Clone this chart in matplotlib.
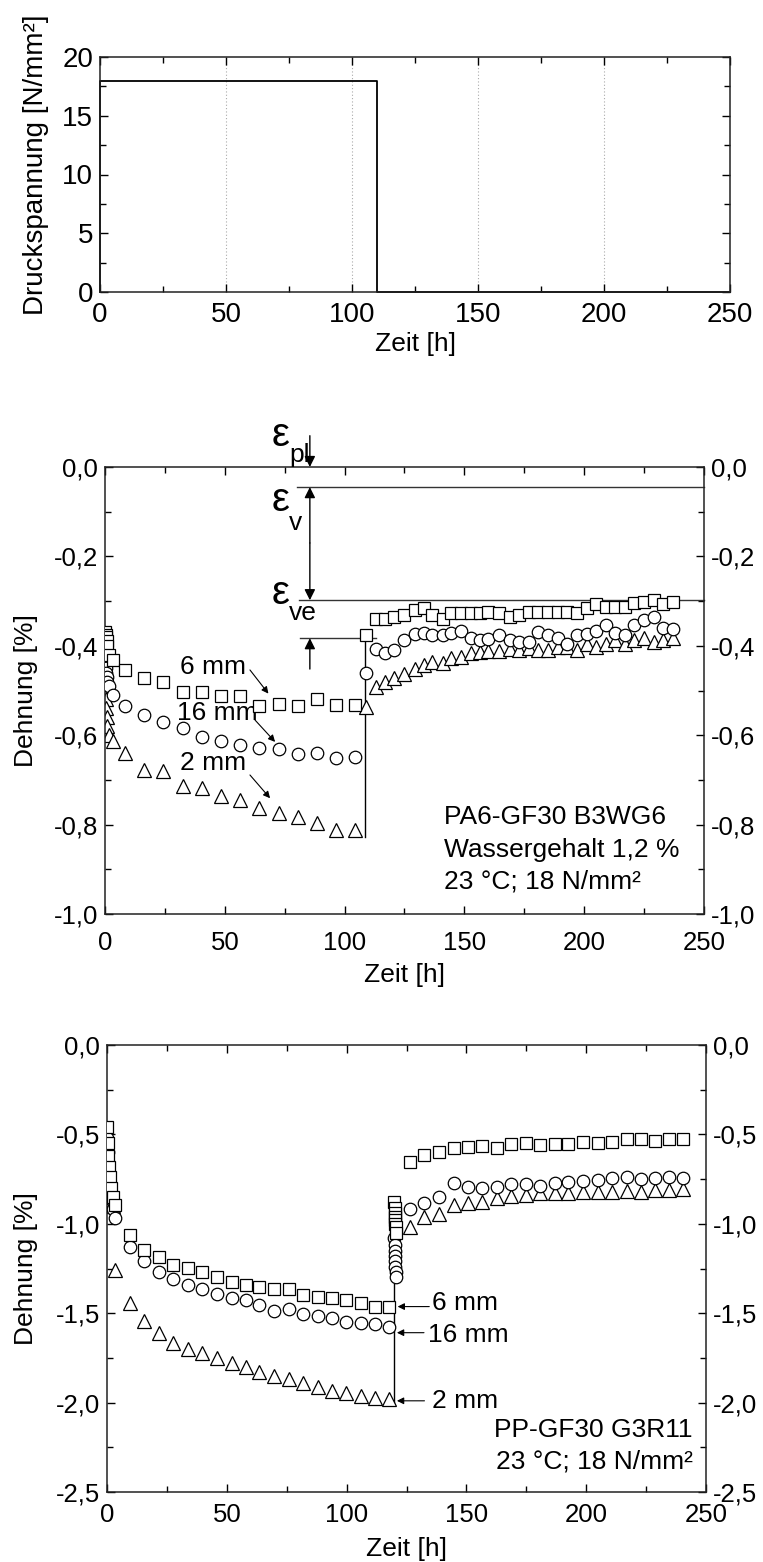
import matplotlib
matplotlib.use('Agg')
import matplotlib.pyplot as plt
from matplotlib.ticker import MultipleLocator, FuncFormatter

plt.rcParams['font.family'] = ['Liberation Sans', 'DejaVu Sans']
plt.rcParams['mathtext.default'] = 'regular'

# ---------------- data: top panel (load history) ----------------
load_t = [0, 0, 110, 110, 250]
load_s = [0, 18, 18, 0, 0]

# ---------------- data: middle panel PA6-GF30 ----------------
pa_t_load = [0.1, 0.3, 0.5, 0.7, 1.0, 1.5, 3.5, 8.3, 16.4, 24.4, 32.4, 40.3, 48.4, 56.3,
             64.4, 72.5, 80.5, 88.6, 96.5, 104.5]
pa_sq_load = [-0.37, -0.375, -0.38, -0.39, -0.40, -0.42, -0.432, -0.454, -0.473, -0.482, -0.503,
              -0.504, -0.512, -0.512, -0.535, -0.531, -0.534, -0.519, -0.532, -0.532]
pa_ci_load = [-0.44, -0.45, -0.46, -0.47, -0.48, -0.49, -0.510, -0.534, -0.555, -0.570, -0.585,
              -0.603, -0.612, -0.623, -0.628, -0.630, -0.641, -0.639, -0.652, -0.648]
pa_tr_load = [-0.50, -0.52, -0.54, -0.56, -0.58, -0.60, -0.614, -0.639, -0.677, -0.679, -0.713,
              -0.719, -0.735, -0.745, -0.762, -0.775, -0.782, -0.797, -0.811, -0.811]

pa_t_rec = [108.9, 112.9, 117.0, 120.6, 124.8, 129.2, 133.3, 136.6, 141.0, 144.4, 148.6, 152.6,
            156.7, 160.0, 164.6, 168.9, 172.7, 176.8, 180.8, 184.7, 189.0, 192.8, 196.9, 201.0,
            204.8, 209.0, 212.9, 217.2, 220.8, 225.0, 229.0, 233.0, 237.0]
pa_sq_rec = [-0.376, -0.341, -0.339, -0.336, -0.331, -0.320, -0.316, -0.331, -0.341, -0.326, -0.326,
             -0.326, -0.326, -0.324, -0.327, -0.336, -0.331, -0.324, -0.324, -0.324, -0.324, -0.324,
             -0.327, -0.316, -0.306, -0.314, -0.314, -0.314, -0.305, -0.301, -0.298, -0.306, -0.303]
pa_ci_rec = [-0.461, -0.408, -0.415, -0.409, -0.387, -0.374, -0.372, -0.376, -0.376, -0.372, -0.366,
             -0.383, -0.387, -0.385, -0.376, -0.387, -0.391, -0.391, -0.370, -0.376, -0.383, -0.395,
             -0.376, -0.374, -0.368, -0.353, -0.372, -0.376, -0.353, -0.342, -0.336, -0.361, -0.363]
pa_tr_rec = [-0.536, -0.492, -0.480, -0.473, -0.462, -0.453, -0.443, -0.436, -0.439, -0.428, -0.424,
             -0.415, -0.413, -0.411, -0.411, -0.408, -0.409, -0.406, -0.409, -0.409, -0.402, -0.402,
             -0.409, -0.395, -0.402, -0.395, -0.386, -0.395, -0.387, -0.383, -0.391, -0.387, -0.383]
pa_unload_t = 108.7
pa_unload_span = [-0.375, -0.827]

# ---------------- data: bottom panel PP-GF30 ----------------
pp_t_load = [0.1, 0.3, 0.5, 0.8, 1.2, 1.8, 2.4, 3.2, 9.6, 15.4, 21.5, 27.6, 33.7, 39.8, 45.9, 52.0,
             58.1, 63.6, 69.7, 75.9, 82.0, 88.1, 93.8, 99.9, 106.0, 111.7, 117.8]
pp_sq_load = [-0.46, -0.55, -0.62, -0.68, -0.74, -0.80, -0.85, -0.895, -1.063, -1.147, -1.184,
              -1.230, -1.249, -1.268, -1.299, -1.324, -1.342, -1.355, -1.367, -1.367, -1.398,
              -1.411, -1.417, -1.426, -1.445, -1.463, -1.467]
pp_ci_load = [-0.52, -0.60, -0.68, -0.74, -0.80, -0.86, -0.92, -0.969, -1.132, -1.206, -1.268,
              -1.311, -1.342, -1.367, -1.393, -1.417, -1.426, -1.454, -1.486, -1.478, -1.504,
              -1.516, -1.529, -1.547, -1.553, -1.560, -1.575]
pp_tr_load = [-0.58, -0.66, -0.72, -0.78, -0.82, -0.86, -0.90, -1.258, -1.441, -1.542, -1.609,
              -1.665, -1.702, -1.725, -1.752, -1.780, -1.803, -1.827, -1.851, -1.870, -1.889,
              -1.911, -1.933, -1.945, -1.963, -1.976, -1.982]

pp_t_jump = [119.9, 120.0, 120.1, 120.2, 120.3, 120.4, 120.5, 120.6]
pp_sq_jump = [-0.88, -0.91, -0.94, -0.96, -0.98, -1.00, -1.02, -1.05]
pp_ci_jump = [-1.08, -1.12, -1.15, -1.18, -1.21, -1.24, -1.27, -1.30]

pp_t_rec = [126.4, 132.5, 138.6, 144.7, 150.8, 156.5, 162.6, 168.7, 174.8, 180.9, 187.0, 192.5,
            198.6, 204.8, 210.8, 216.9, 223.0, 228.8, 234.7, 240.4]
pp_sq_rec = [-0.653, -0.615, -0.597, -0.578, -0.572, -0.565, -0.578, -0.554, -0.550, -0.559,
             -0.554, -0.554, -0.541, -0.550, -0.541, -0.528, -0.528, -0.535, -0.528, -0.528]
pp_ci_rec = [-0.919, -0.885, -0.852, -0.770, -0.796, -0.802, -0.796, -0.777, -0.777, -0.789,
             -0.770, -0.764, -0.759, -0.755, -0.746, -0.740, -0.751, -0.746, -0.740, -0.745]
pp_tr_rec = [-1.016, -0.960, -0.945, -0.895, -0.885, -0.876, -0.857, -0.845, -0.839, -0.829,
             -0.830, -0.825, -0.822, -0.820, -0.820, -0.815, -0.820, -0.810, -0.810, -0.805]
pp_unload_t = 119.8
pp_unload_span = [-0.86, -2.0]

# ---------------- styling helpers ----------------
TICK_FS = 18.5
LABEL_FS = 19
LW_SP = 1.1

def comma(v, pos):
    s = f"{v:.1f}"
    if s == "-0.0":
        s = "0.0"
    return s.replace('.', ',')

def style(ax, right_labels, xpad, fs=TICK_FS):
    for sp in ax.spines.values():
        sp.set_linewidth(LW_SP)
        sp.set_color('#222222')
    ax.tick_params(which='both', direction='in', top=True, right=True,
                   labelsize=fs, width=1.0, pad=5)
    ax.tick_params(axis='x', which='both', pad=xpad)
    ax.tick_params(which='major', length=6)
    ax.tick_params(which='minor', length=4)
    if right_labels:
        ax.tick_params(labelright=True)

fig = plt.figure(figsize=(7.63, 15.62), dpi=100)

# ---------------- top panel ----------------
L1, B1, W1, H1 = 100, 292, 630, 235
ax1 = fig.add_axes([L1/763, 1 - B1/1562, W1/763, H1/1562])
ax1.plot(load_t, load_s, color='black', lw=1.3, clip_on=False)
ax1.set_xlim(0, 250)
ax1.set_ylim(0, 20)
ax1.xaxis.set_major_locator(MultipleLocator(50))
ax1.xaxis.set_minor_locator(MultipleLocator(25))
ax1.yaxis.set_major_locator(MultipleLocator(5))
ax1.yaxis.set_minor_locator(MultipleLocator(2.5))
for gx in [50, 100, 150, 200]:
    ax1.axvline(gx, color='#aaaaaa', lw=0.8, ls=(0, (1, 2)), zorder=0)
style(ax1, False, 7, fs=20)
ax1.set_xlabel('Zeit [h]', fontsize=LABEL_FS, labelpad=3)
ax1.set_ylabel('Druckspannung [N/mm²]', fontsize=20)
ax1.yaxis.set_label_coords((49 - L1)/W1, (B1 - 165)/H1)

MS_SQ = 8.5
MS_CI = 9
MS_TR = 9.5
mk = dict(mfc='white', mec='black', mew=0.9, ls='none')

# ---------------- middle panel ----------------
L2, B2, W2, H2 = 105, 914, 599, 447
ax2 = fig.add_axes([L2/763, 1 - B2/1562, W2/763, H2/1562])
ax2.set_xlim(0, 250)
ax2.set_ylim(-1.0, 0.0)
ax2.plot([pa_unload_t, pa_unload_t], pa_unload_span, color='black', lw=1.0, zorder=1)
ax2.plot(pa_t_load, pa_tr_load, marker='^', ms=MS_TR, **mk, zorder=2)
ax2.plot(pa_t_rec, pa_tr_rec, marker='^', ms=MS_TR, **mk, zorder=2)
ax2.plot(pa_t_load, pa_ci_load, marker='o', ms=MS_CI, **mk, zorder=3)
ax2.plot(pa_t_rec, pa_ci_rec, marker='o', ms=MS_CI, **mk, zorder=3)
ax2.plot(pa_t_load, pa_sq_load, marker='s', ms=MS_SQ, **mk, zorder=4)
ax2.plot(pa_t_rec, pa_sq_rec, marker='s', ms=MS_SQ, **mk, zorder=4)
ax2.xaxis.set_major_locator(MultipleLocator(50))
ax2.xaxis.set_minor_locator(MultipleLocator(25))
ax2.yaxis.set_major_locator(MultipleLocator(0.2))
ax2.yaxis.set_minor_locator(MultipleLocator(0.1))
ax2.yaxis.set_major_formatter(FuncFormatter(comma))
style(ax2, True, 12)
ax2.set_xlabel('Zeit [h]', fontsize=LABEL_FS, labelpad=6)
ax2.set_ylabel('Dehnung [%]', fontsize=LABEL_FS)
ax2.yaxis.set_label_coords((38 - L2)/W2, 0.5)

# epsilon annotations
line_kw = dict(color='#333333', lw=1.0)
ax2.plot([80, 250], [-0.045, -0.045], **line_kw, clip_on=False)
ax2.plot([81, 250], [-0.298, -0.298], **line_kw, clip_on=False)
ax2.plot([81.5, 113], [-0.383, -0.383], **line_kw)
arr = dict(arrowstyle='-|>', color='black', lw=1.0, mutation_scale=16, shrinkA=0, shrinkB=0)
ax2.annotate('', xy=(85.5, 0.0), xytext=(85.5, 0.07), arrowprops=arr, annotation_clip=False)
ax2.annotate('', xy=(85.5, -0.045), xytext=(85.5, -0.17), arrowprops=arr)
ax2.annotate('', xy=(85.5, -0.298), xytext=(85.5, -0.17), arrowprops=arr)
ax2.annotate('', xy=(85.5, -0.383), xytext=(85.5, -0.452), arrowprops=arr)
EPS_FS = 29
SUB_FS = 19
ax2.text(73.3, 0.072, 'ε', fontsize=EPS_FS, ha='center', va='center', clip_on=False)
ax2.text(81.4, 0.027, 'pl', fontsize=SUB_FS, ha='center', va='center', clip_on=False)
ax2.text(73.3, -0.074, 'ε', fontsize=EPS_FS, ha='center', va='center')
ax2.text(79.7, -0.125, 'v', fontsize=SUB_FS, ha='center', va='center')
ax2.text(73.3, -0.282, 'ε', fontsize=EPS_FS, ha='center', va='center')
ax2.text(82.4, -0.327, 've', fontsize=SUB_FS, ha='center', va='center')

# thickness labels with arrows
LBL_FS = 19
arr2 = dict(arrowstyle='-|>', color='black', lw=0.8, mutation_scale=10, shrinkA=0, shrinkB=0)
ax2.text(45.1, -0.447, '6 mm', fontsize=LBL_FS, ha='center', va='center')
ax2.annotate('', xy=(68.2, -0.507), xytext=(60.5, -0.454), arrowprops=arr2)
ax2.text(46.9, -0.551, '16 mm', fontsize=LBL_FS, ha='center', va='center')
ax2.annotate('', xy=(71.0, -0.615), xytext=(62.6, -0.566), arrowprops=arr2)
ax2.text(45.1, -0.663, '2 mm', fontsize=LBL_FS, ha='center', va='center')
ax2.annotate('', xy=(68.9, -0.741), xytext=(60.5, -0.689), arrowprops=arr2)

ax2.text(141.5, -0.783, 'PA6-GF30 B3WG6', fontsize=LBL_FS, ha='left', va='center')
ax2.text(141.5, -0.857, 'Wassergehalt 1,2 %', fontsize=LBL_FS, ha='left', va='center')
ax2.text(141.5, -0.928, '23 °C; 18 N/mm²', fontsize=LBL_FS, ha='left', va='center')

# ---------------- bottom panel ----------------
L3, B3, W3, H3 = 107, 1492, 599, 447
ax3 = fig.add_axes([L3/763, 1 - B3/1562, W3/763, H3/1562])
ax3.set_xlim(0, 250)
ax3.set_ylim(-2.5, 0.0)
ax3.plot([pp_unload_t, pp_unload_t], pp_unload_span, color='black', lw=1.0, zorder=1)
ax3.plot(pp_t_load, pp_tr_load, marker='^', ms=MS_TR, **mk, zorder=2)
ax3.plot(pp_t_rec, pp_tr_rec, marker='^', ms=MS_TR, **mk, zorder=2)
ax3.plot(pp_t_load, pp_ci_load, marker='o', ms=MS_CI, **mk, zorder=3)
ax3.plot(pp_t_jump, pp_ci_jump, marker='o', ms=MS_CI, **mk, zorder=3)
ax3.plot(pp_t_rec, pp_ci_rec, marker='o', ms=MS_CI, **mk, zorder=3)
ax3.plot(pp_t_load, pp_sq_load, marker='s', ms=MS_SQ, **mk, zorder=4)
ax3.plot(pp_t_jump, pp_sq_jump, marker='s', ms=MS_SQ, **mk, zorder=4)
ax3.plot(pp_t_rec, pp_sq_rec, marker='s', ms=MS_SQ, **mk, zorder=4)
ax3.xaxis.set_major_locator(MultipleLocator(50))
ax3.xaxis.set_minor_locator(MultipleLocator(25))
ax3.yaxis.set_major_locator(MultipleLocator(0.5))
ax3.yaxis.set_minor_locator(MultipleLocator(0.25))
ax3.yaxis.set_major_formatter(FuncFormatter(comma))
style(ax3, True, 8)
ax3.set_xlabel('Zeit [h]', fontsize=LABEL_FS, labelpad=7)
ax3.set_ylabel('Dehnung [%]', fontsize=LABEL_FS)
ax3.yaxis.set_label_coords((38 - L3)/W3, 0.5)

ax3.annotate('', xy=(121.3, -1.463), xytext=(134.5, -1.463), arrowprops=arr2)
ax3.text(135.5, -1.445, '6 mm', fontsize=LBL_FS, ha='left', va='center')
ax3.annotate('', xy=(121.0, -1.609), xytext=(132.3, -1.609), arrowprops=arr2)
ax3.text(134.0, -1.622, '16 mm', fontsize=LBL_FS, ha='left', va='center')
ax3.annotate('', xy=(121.0, -1.99), xytext=(132.5, -1.99), arrowprops=arr2)
ax3.text(135.5, -1.99, '2 mm', fontsize=LBL_FS, ha='left', va='center')

ax3.text(244.4, -2.153, 'PP-GF30 G3R11', fontsize=LBL_FS, ha='right', va='center')
ax3.text(244.4, -2.33, '23 °C; 18 N/mm²', fontsize=LBL_FS, ha='right', va='center')

fig.savefig('out.png', dpi=100)
